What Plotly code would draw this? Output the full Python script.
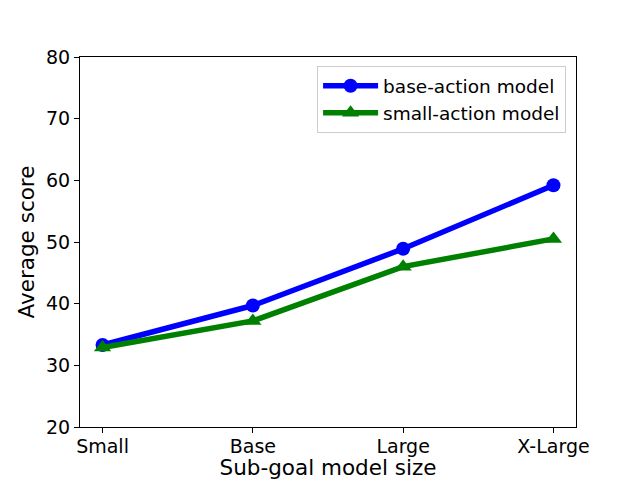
import plotly.graph_objects as go

categories = ["Small", "Base", "Large", "X-Large"]
base_action = [33.3, 39.7, 48.9, 59.2]
small_action = [32.9, 37.2, 46.0, 50.5]
y_ticks = [20, 30, 40, 50, 60, 70, 80]

x_idx = list(range(len(categories)))

# page body has a default 8px margin; compensate so the plot lands where the reference has it
OFF = 8

fig = go.Figure()
fig.add_trace(go.Scatter(
    x=x_idx, y=base_action, mode="lines+markers", name="base-action model",
    line=dict(color="#0000ff", width=5.5),
    marker=dict(symbol="circle", size=14, color="#0000ff"),
))
fig.add_trace(go.Scatter(
    x=x_idx, y=small_action, mode="lines+markers", name="small-action model",
    line=dict(color="#008000", width=5.5),
    marker=dict(symbol="triangle-up", size=15, color="#008000"),
))

axis_common = dict(
    showline=True, linecolor="black", linewidth=1, mirror=True,
    ticks="outside", ticklen=5, tickwidth=1, tickcolor="black",
    showgrid=False, zeroline=False, automargin=False,
    tickfont=dict(family="DejaVu Sans", size=19, color="black"),
)

fig.update_layout(
    width=640 - OFF, height=480 - OFF,
    margin=dict(l=80 - OFF, r=64, t=57 - OFF, b=53, autoexpand=False),
    paper_bgcolor="white", plot_bgcolor="white",
    font=dict(family="DejaVu Sans", color="black"),
    xaxis=dict(
        **axis_common,
        range=[-0.15, 3.15],
        tickmode="array", tickvals=x_idx, ticktext=categories,
        ticklabelstandoff=-3,
        title=dict(text="Sub-goal model size", font=dict(size=21.5), standoff=0),
    ),
    yaxis=dict(
        **axis_common,
        range=[20, 80],
        tickmode="array", tickvals=y_ticks, ticktext=[str(v) for v in y_ticks],
        title=dict(text="Average score", font=dict(size=21.5), standoff=5),
    ),
    legend=dict(
        x=0.98, y=0.975, xanchor="right", yanchor="top",
        bgcolor="rgba(255,255,255,0.8)", bordercolor="#cccccc", borderwidth=1,
        font=dict(family="DejaVu Sans", size=18.5, color="black"),
        tracegroupgap=6, itemwidth=55,
    ),
    showlegend=True,
)

fig.write_html("out.html")
